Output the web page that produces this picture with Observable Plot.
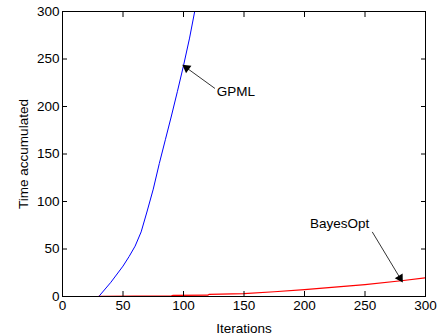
<!DOCTYPE html>
<html>
<head>
<meta charset="utf-8">
<script src="https://cdn.jsdelivr.net/npm/d3@7"></script>
<script src="https://cdn.jsdelivr.net/npm/@observablehq/plot@0.6"></script>
<style>
  html, body { margin: 0; padding: 0; background: #fff; }
  svg { display: block; }
</style>
</head>
<body>
<div id="chart"></div>
<script>
const gpmlIter = [30, 40, 50, 55, 60, 65, 70, 75, 80, 85, 90, 95, 100, 105, 110, 115];
const gpmlTime = [0, 15, 32, 42, 53, 68, 90, 113, 140, 165, 190, 216, 243, 272, 305, 340];
const boIter = [30, 60, 90, 91, 120, 121, 150, 175, 200, 225, 250, 280, 300];
const boTime = [0.2, 0.4, 0.6, 1.1, 1.4, 2.2, 3.0, 5.0, 7.2, 9.8, 12.6, 16.6, 19.6];
const ticks = [0, 50, 100, 150, 200, 250, 300];
const labelText = ["GPML", "BayesOpt"];
const labelX = [127.5, 204.5];
const labelY = [216, 77];
const tailX = [126, 256];
const tailY = [219, 68];
const headX = [100, 280.6];
const headY = [243, 16];

const W = 438, H = 335, mL = 62, mR = 13, mT = 11, mB = 39;
const kx = (W - mL - mR) / 300, ky = (H - mT - mB) / 300;

const gpml = gpmlIter.map((x, i) => ({x, y: gpmlTime[i]}));
const bo = boIter.map((x, i) => ({x, y: boTime[i]}));
const labels = labelText.map((text, i) => {
  const dx = (headX[i] - tailX[i]) * kx, dy = -(headY[i] - tailY[i]) * ky;
  const len = Math.hypot(dx, dy), ux = dx / len, uy = dy / len;
  const back = 3.8; // pixels from tip to triangle centre
  return {
    text, x: labelX[i], y: labelY[i],
    x1: tailX[i], y1: tailY[i],
    x2: headX[i] - ux * back / kx, y2: headY[i] + uy * back / ky,
    hx: headX[i] - ux * back / kx, hy: headY[i] + uy * back / ky,
    rot: Math.atan2(dy, dx) * 180 / Math.PI + 90
  };
});

const font = "Liberation Sans, Arial, Helvetica, sans-serif";

const chart = Plot.plot({
  width: W,
  height: H,
  marginLeft: mL,
  marginRight: mR,
  marginTop: mT,
  marginBottom: mB,
  style: {fontFamily: font, fontSize: "13.5px", color: "#000", background: "#fff"},
  x: {domain: [0, 300], ticks},
  y: {domain: [0, 300], ticks},
  marks: [
    Plot.line(gpml, {x: "x", y: "y", stroke: "#0000ff", strokeWidth: 1, clip: true}),
    Plot.line(bo, {x: "x", y: "y", stroke: "#ff0000", strokeWidth: 1.2, clip: true}),
    Plot.frame({stroke: "#000", strokeWidth: 1}),
    Plot.axisX({anchor: "bottom", ticks, tickSize: -5, tickPadding: 9, label: "Iterations", labelAnchor: "center", labelOffset: 36, labelArrow: "none", fontSize: 13.5}),
    Plot.axisX({anchor: "top", ticks, tickSize: -5, tickFormat: () => "", label: null}),
    Plot.axisY({anchor: "left", ticks, tickSize: -5, tickPadding: 8, label: "Time accumulated", labelAnchor: "center", labelOffset: 44, labelArrow: "none", fontSize: 13.5}),
    Plot.axisY({anchor: "right", ticks, tickSize: -5, tickFormat: () => "", label: null}),
    Plot.link(labels, {x1: "x1", y1: "y1", x2: "x2", y2: "y2", stroke: "#000", strokeWidth: 0.8}),
    Plot.dot(labels, {x: "hx", y: "hy", symbol: "triangle", r: 3.4, rotate: "rot", fill: "#000", stroke: "none"}),
    Plot.text(labels, {x: "x", y: "y", text: "text", textAnchor: "start", fontSize: 13.5, fill: "#000"})
  ]
});
document.getElementById("chart").appendChild(chart);
</script>
</body>
</html>
